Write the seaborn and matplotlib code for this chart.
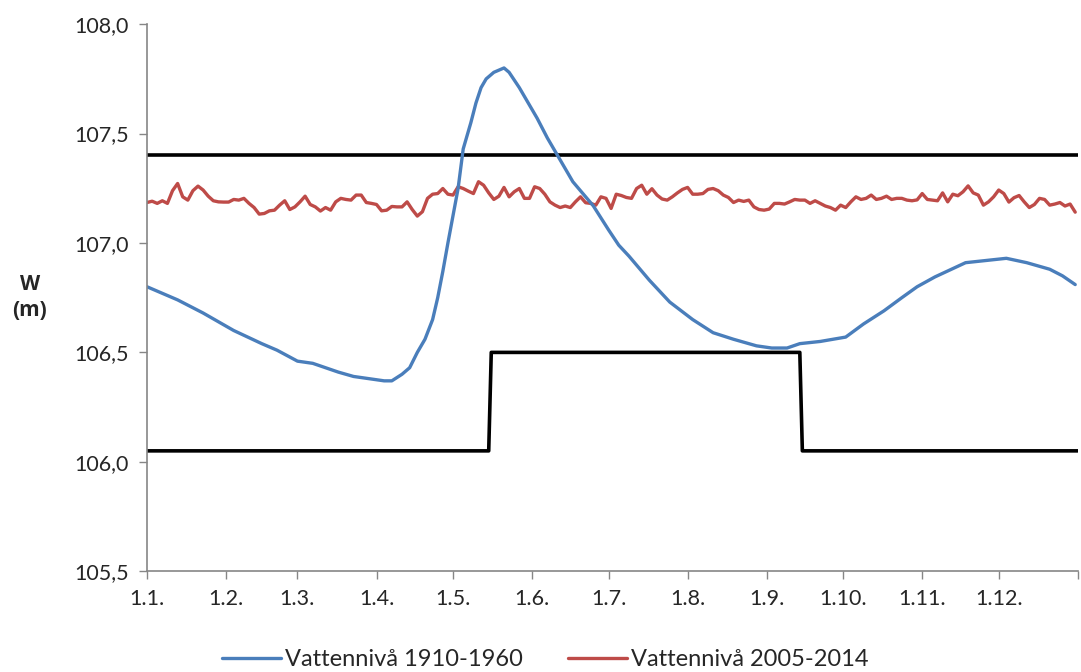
import numpy as np
import pandas as pd
import seaborn as sns
import matplotlib.pyplot as plt
from matplotlib.ticker import FuncFormatter

## Data (day of year -> water level, m)
blue_days = [1, 7, 13, 23, 29, 35, 46, 52, 60, 66, 71, 76, 82, 88, 94, 97, 101, 104, 107, 110,
             113, 115, 117, 119, 123, 125, 128, 130, 132, 134, 137, 139, 141, 143, 147, 150,
             154, 158, 162, 168, 176, 182, 186, 190, 198, 206, 215, 223, 231, 240, 246, 252,
             257, 265, 275, 282, 290, 297, 303, 310, 322, 330, 338, 346, 355, 360, 365]
blue_level = [106.80, 106.77, 106.74, 106.68, 106.64, 106.60, 106.54, 106.51, 106.46, 106.45,
              106.43, 106.41, 106.39, 106.38, 106.37, 106.37, 106.40, 106.43, 106.50, 106.56,
              106.65, 106.75, 106.87, 107.00, 107.25, 107.43, 107.55, 107.64, 107.71, 107.75,
              107.78, 107.79, 107.80, 107.78, 107.71, 107.65, 107.57, 107.48, 107.40, 107.28,
              107.17, 107.06, 106.99, 106.94, 106.83, 106.73, 106.65, 106.59, 106.56, 106.53,
              106.52, 106.52, 106.54, 106.55, 106.57, 106.63, 106.69, 106.75, 106.80, 106.845,
              106.91, 106.92, 106.93, 106.91, 106.88, 106.85, 106.81]

red_level = [
    107.185, 107.191, 107.181, 107.193, 107.181, 107.239, 107.272, 107.211, 107.196, 107.239,
    107.260, 107.242, 107.214, 107.193, 107.188, 107.187, 107.187, 107.199, 107.196, 107.204,
    107.181, 107.162, 107.132, 107.135, 107.147, 107.150, 107.173, 107.193, 107.153, 107.165,
    107.188, 107.214, 107.176, 107.165, 107.146, 107.162, 107.150, 107.188, 107.204, 107.199,
    107.196, 107.219, 107.219, 107.185, 107.181, 107.176, 107.147,
    107.150, 107.167, 107.165, 107.165, 107.188, 107.153, 107.123, 107.143, 107.204, 107.223,
    107.226, 107.249, 107.223, 107.219, 107.257, 107.249, 107.237, 107.226, 107.280, 107.264,
    107.229, 107.199, 107.214, 107.254, 107.211, 107.234, 107.249, 107.204, 107.204, 107.257,
    107.249, 107.223, 107.188, 107.173, 107.162, 107.169, 107.162, 107.188, 107.211, 107.184,
    107.181, 107.173, 107.211, 107.204, 107.158, 107.223,
    107.217, 107.208, 107.204, 107.249, 107.264, 107.223, 107.248, 107.219, 107.201, 107.196,
    107.211, 107.229, 107.245, 107.254, 107.223, 107.223, 107.226, 107.245, 107.249, 107.239,
    107.219, 107.208, 107.185, 107.196, 107.190, 107.196, 107.165, 107.153, 107.150, 107.155,
    107.181, 107.181, 107.178, 107.188, 107.199, 107.196, 107.196, 107.181, 107.193, 107.181,
    107.169, 107.162, 107.150, 107.173, 107.162, 107.188,
    107.211, 107.199, 107.204, 107.219, 107.199, 107.204, 107.214, 107.199, 107.204, 107.204,
    107.196, 107.193, 107.197, 107.226, 107.199, 107.196, 107.193, 107.229, 107.188, 107.223,
    107.216, 107.234, 107.261, 107.229, 107.219, 107.173, 107.188, 107.211, 107.242, 107.226,
    107.187, 107.207, 107.217, 107.188, 107.162, 107.176, 107.204, 107.199, 107.173, 107.178,
    107.185, 107.169, 107.178, 107.141]
red_days = list(range(1, 366, 2))

upper_days = [1, 366]
upper_level = [107.4, 107.4]
lower_days = [1, 135, 136, 257, 258, 366]
lower_level = [106.05, 106.05, 106.5, 106.5, 106.05, 106.05]

tick_days = [1, 32, 60, 91, 121, 152, 182, 213, 244, 274, 305, 335, 366]
tick_labels = ["1.1.", "1.2.", "1.3.", "1.4.", "1.5.", "1.6.", "1.7.", "1.8.", "1.9.",
               "1.10.", "1.11.", "1.12.", ""]

sns.set_style("white")
plt.rcParams['font.family'] = ['Lato', 'DejaVu Sans']

fig = plt.figure(figsize=(10.81, 6.72), dpi=100)
ax = fig.add_axes([0.136, 0.150, 0.861, 0.814])

sns.lineplot(x=upper_days, y=upper_level, color="black", linewidth=2.6, ax=ax, legend=False)
sns.lineplot(x=lower_days, y=lower_level, color="black", linewidth=2.6, ax=ax, legend=False,
             sort=False)
sns.lineplot(x=red_days, y=red_level, color="#BE4B48", linewidth=2.4, ax=ax,
             label="Vattennivå 2005-2014")
sns.lineplot(x=blue_days, y=blue_level, color="#4A7EBB", linewidth=2.4, ax=ax,
             label="Vattennivå 1910-1960")

ax.set_xlim(1, 366)
ax.set_ylim(105.5, 108.0)
ax.set_yticks([105.5, 106.0, 106.5, 107.0, 107.5, 108.0])
ax.yaxis.set_major_formatter(FuncFormatter(lambda v, p: f"{v:.1f}".replace(".", ",")))
ax.set_xticks(tick_days)
ax.set_xticklabels(tick_labels)
ax.tick_params(axis="both", labelsize=15.5, length=6, width=1, color="#868686",
               direction="out", left=True, bottom=True)
ax.tick_params(axis="x", pad=7)
ax.tick_params(axis="y", pad=7)
for s in ["top", "right"]:
    ax.spines[s].set_visible(False)
for s in ["left", "bottom"]:
    ax.spines[s].set_color("#868686")
    ax.spines[s].set_linewidth(1.2)

ax.set_xlabel("")
ax.set_ylabel("W\n(m)", rotation=0, fontsize=15, fontweight="bold", labelpad=32,
              va="center", linespacing=1.3, family=["Open Sans", "DejaVu Sans"])

handles, labels = ax.get_legend_handles_labels()
order = [labels.index("Vattennivå 1910-1960"), labels.index("Vattennivå 2005-2014")]
ax.legend([handles[i] for i in order], [labels[i] for i in order],
          loc="lower center", bbox_to_anchor=(0.428, -0.22), ncol=2, frameon=False,
          fontsize=17, handlelength=2.5, handletextpad=0.15, columnspacing=1.92)

fig.savefig("out.png", dpi=100)
